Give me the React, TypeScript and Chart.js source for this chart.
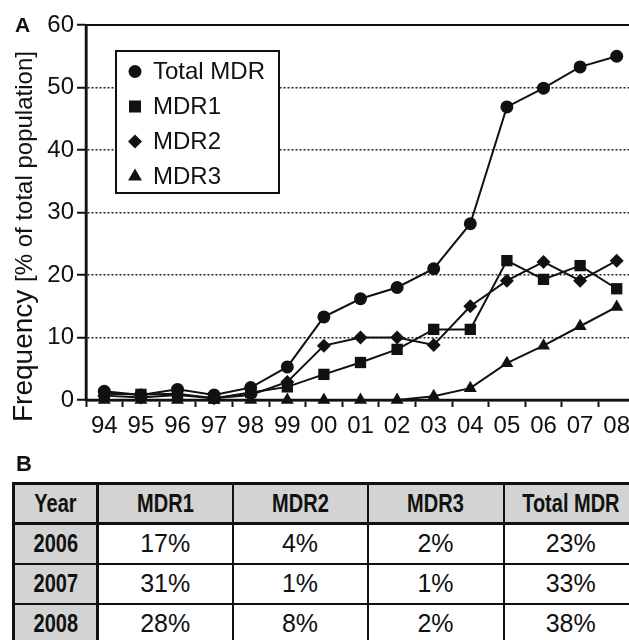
import React, { useEffect, useRef } from "react";
import { Chart, registerables } from "chart.js";

Chart.register(...registerables);

// ---- Panel A data ----
const YEARS = ["94", "95", "96", "97", "98", "99", "00", "01", "02", "03", "04", "05", "06", "07", "08"];
const TOTAL_MDR = [1.4, 0.8, 1.7, 0.8, 2.0, 5.3, 13.3, 16.2, 18.0, 21.0, 28.2, 46.9, 49.9, 53.3, 55.0];
const MDR1 = [1.0, 0.9, 1.0, 0.3, 1.2, 2.1, 4.1, 6.0, 8.1, 11.3, 11.3, 22.3, 19.3, 21.5, 17.8];
const MDR2 = [0.7, 0.4, 0.8, 0.3, 0.8, 2.9, 8.7, 10.0, 10.0, 8.8, 15.0, 19.1, 22.1, 19.1, 22.3];
const MDR3 = [0, 0, 0, 0, 0, 0, 0, 0, 0, 0.6, 1.9, 5.9, 8.7, 11.8, 14.9];
const Y_MIN = 0;
const Y_MAX = 60;
const Y_STEP = 10;

// ---- Panel B table data ----
const TABLE_HEAD = ["Year", "MDR1", "MDR2", "MDR3", "Total MDR"];
const TABLE_YEARS = ["2006", "2007", "2008"];
const TABLE_MDR1 = ["17%", "31%", "28%"];
const TABLE_MDR2 = ["4%", "1%", "8%"];
const TABLE_MDR3 = ["2%", "1%", "2%"];
const TABLE_TOTAL = ["23%", "33%", "38%"];

const FONT = "'Liberation Sans', Arial, sans-serif";
const INK = "#111";

function drawMarker(ctx: CanvasRenderingContext2D, style: string, x: number, y: number, r: number) {
  ctx.beginPath();
  if (style === "circle") {
    ctx.arc(x, y, r, 0, Math.PI * 2);
  } else if (style === "rect") {
    const s = r * Math.SQRT1_2;
    ctx.rect(x - s, y - s, 2 * s, 2 * s);
  } else if (style === "rectRot") {
    ctx.moveTo(x, y - r);
    ctx.lineTo(x + r, y);
    ctx.lineTo(x, y + r);
    ctx.lineTo(x - r, y);
    ctx.closePath();
  } else if (style === "triangle") {
    let a = 0;
    ctx.moveTo(x + Math.sin(a) * r, y - Math.cos(a) * r);
    a += (2 * Math.PI) / 3;
    ctx.lineTo(x + Math.sin(a) * r, y - Math.cos(a) * r);
    a += (2 * Math.PI) / 3;
    ctx.lineTo(x + Math.sin(a) * r, y - Math.cos(a) * r);
    ctx.closePath();
  }
  ctx.fill();
}

const LEGEND_R: Record<string, number> = { circle: 6.5, rect: 8.5, rectRot: 7, triangle: 8 };

const decorPlugin = {
  id: "decor",
  beforeDatasetsDraw(chart: any) {
    const { ctx, chartArea } = chart;
    const { left, right, top, bottom } = chartArea;
    ctx.save();
    ctx.strokeStyle = INK;
    ctx.lineWidth = 2;
    ctx.beginPath();
    ctx.moveTo(left, top);
    ctx.lineTo(right + 20, top);
    ctx.stroke();
    ctx.lineWidth = 2.5;
    ctx.beginPath();
    ctx.moveTo(left - 1.25, bottom);
    ctx.lineTo(right + 20, bottom);
    ctx.moveTo(left, top - 1);
    ctx.lineTo(left, bottom);
    ctx.stroke();
    ctx.restore();
  },
  afterDatasetsDraw(chart: any) {
    const { ctx, chartArea } = chart;
    const bx = chartArea.left + 30;
    const by = chartArea.top + 26;
    const bw = 163;
    const bh = 142;
    ctx.save();
    ctx.fillStyle = "#fff";
    ctx.fillRect(bx, by, bw, bh);
    ctx.strokeStyle = INK;
    ctx.lineWidth = 2;
    ctx.strokeRect(bx, by, bw, bh);
    ctx.fillStyle = INK;
    ctx.font = `24px ${FONT}`;
    ctx.textBaseline = "middle";
    ctx.textAlign = "left";
    chart.data.datasets.forEach((ds: any, i: number) => {
      const y = by + 20.5 + i * 35;
      drawMarker(ctx, ds.pointStyle, bx + 19, y, LEGEND_R[ds.pointStyle]);
      ctx.fillText(ds.label, bx + 37, y + 1);
    });
    ctx.restore();
  },
};

function makeDataset(label: string, data: number[], pointStyle: string, radius: number) {
  return {
    label,
    data,
    pointStyle,
    pointRadius: radius,
    pointHoverRadius: radius,
    borderColor: INK,
    backgroundColor: INK,
    pointBackgroundColor: INK,
    pointBorderColor: INK,
    pointBorderWidth: 0,
    borderWidth: 2,
    tension: 0,
    clip: false as any,
  };
}

function FrequencyChart() {
  const ref = useRef<HTMLCanvasElement | null>(null);
  useEffect(() => {
    if (!ref.current) return;
    const chart = new Chart(ref.current, {
      type: "line",
      data: {
        labels: YEARS,
        datasets: [
          makeDataset("Total MDR", TOTAL_MDR, "circle", 6.5),
          makeDataset("MDR1", MDR1, "rect", 8),
          makeDataset("MDR2", MDR2, "rectRot", 7),
          makeDataset("MDR3", MDR3, "triangle", 7.5),
        ],
      },
      options: {
        responsive: false,
        animation: false,
        devicePixelRatio: 1,
        layout: { padding: { left: 0, top: 25, right: 25, bottom: 0 } },
        plugins: {
          legend: { display: false },
          tooltip: { enabled: false },
          title: { display: false },
        },
        scales: {
          x: {
            type: "category",
            offset: true,
            grid: {
              offset: true,
              drawOnChartArea: false,
              drawTicks: true,
              tickLength: 7,
              tickColor: INK,
              tickWidth: 2,
              color: INK,
            },
            border: { display: true, color: INK, width: 2.5 },
            ticks: {
              color: INK,
              font: { family: FONT, size: 24 },
              padding: 5,
              maxRotation: 0,
              autoSkip: false,
            },
            afterFit(scale: any) {
              scale.height = 45;
            },
          },
          y: {
            min: Y_MIN,
            max: Y_MAX,
            ticks: {
              stepSize: Y_STEP,
              color: INK,
              font: { family: FONT, size: 24 },
              padding: 3,
            },
            grid: {
              color: "#222",
              lineWidth: 1.5,
              tickLength: 9,
              tickColor: INK,
              tickWidth: 2,
              tickBorderDash: [],
            },
            border: { display: true, color: INK, width: 2.5, dash: [2, 2] },
            afterFit(scale: any) {
              scale.width = 86;
            },
          },
        },
      },
      plugins: [decorPlugin],
    } as any);
    return () => chart.destroy();
  }, []);
  return (
    <canvas
      ref={ref}
      width={660}
      height={445}
      style={{ position: "absolute", left: 0, top: 0, width: 660, height: 445 }}
    />
  );
}

const GRAY = "#d3d3d3";

const baseCell: React.CSSProperties = {
  fontFamily: FONT,
  fontSize: 25,
  color: INK,
  textAlign: "center",
  verticalAlign: "middle",
  border: `2px solid ${INK}`,
  padding: 0,
  whiteSpace: "nowrap",
  overflow: "visible",
};

function Narrow({ children }: { children: React.ReactNode }) {
  return (
    <span
      style={{
        display: "inline-block",
        fontWeight: "bold",
        transform: "scaleX(0.8)",
        transformOrigin: "50% 50%",
      }}
    >
      {children}
    </span>
  );
}

function MdrTable() {
  const colWidths = [84, 135, 135, 136, 135];
  const rows = TABLE_YEARS.map((yr, i) => [yr, TABLE_MDR1[i], TABLE_MDR2[i], TABLE_MDR3[i], TABLE_TOTAL[i]]);
  return (
    <table
      style={{
        position: "absolute",
        left: 12,
        top: 482,
        borderCollapse: "collapse",
        tableLayout: "fixed",
        width: colWidths.reduce((a, b) => a + b, 0),
        border: `3px solid ${INK}`,
      }}
    >
      <colgroup>
        {colWidths.map((w, i) => (
          <col key={i} style={{ width: w }} />
        ))}
      </colgroup>
      <tbody>
        <tr style={{ height: 40 }}>
          {TABLE_HEAD.map((h, i) => (
            <td
              key={h}
              style={{
                ...baseCell,
                background: GRAY,
                borderBottom: `3px solid ${INK}`,
                borderRight: i === 0 ? `3px solid ${INK}` : `2px solid ${INK}`,
              }}
            >
              <Narrow>{h}</Narrow>
            </td>
          ))}
        </tr>
        {rows.map((r, ri) => (
          <tr key={ri} style={{ height: 40 }}>
            {r.map((v, ci) =>
              ci === 0 ? (
                <td key={ci} style={{ ...baseCell, background: GRAY, borderRight: `3px solid ${INK}` }}>
                  <Narrow>{v}</Narrow>
                </td>
              ) : (
                <td key={ci} style={{ ...baseCell, background: "#fff" }}>
                  {v}
                </td>
              )
            )}
          </tr>
        ))}
      </tbody>
    </table>
  );
}

export default function App() {
  return (
    <div
      style={{
        position: "fixed",
        left: 0,
        top: 0,
        width: 629,
        height: 640,
        overflow: "hidden",
        background: "#fff",
        fontFamily: FONT,
        color: INK,
      }}
    >
      <FrequencyChart />
      <div
        style={{
          position: "absolute",
          left: 15,
          top: 14,
          fontFamily: FONT,
          fontWeight: "bold",
          fontSize: 21,
          lineHeight: "21px",
        }}
      >
        A
      </div>
      <div
        style={{
          position: "absolute",
          left: 9,
          top: 422,
          transform: "rotate(-90deg)",
          transformOrigin: "0 0",
          whiteSpace: "nowrap",
          fontFamily: FONT,
          fontSize: 28,
          lineHeight: "28px",
        }}
      >
        Frequency <span style={{ fontSize: 24 }}>[% of total population]</span>
      </div>
      <div
        style={{
          position: "absolute",
          left: 16,
          top: 453,
          fontFamily: FONT,
          fontWeight: "bold",
          fontSize: 22,
          lineHeight: "22px",
        }}
      >
        B
      </div>
      <MdrTable />
    </div>
  );
}
